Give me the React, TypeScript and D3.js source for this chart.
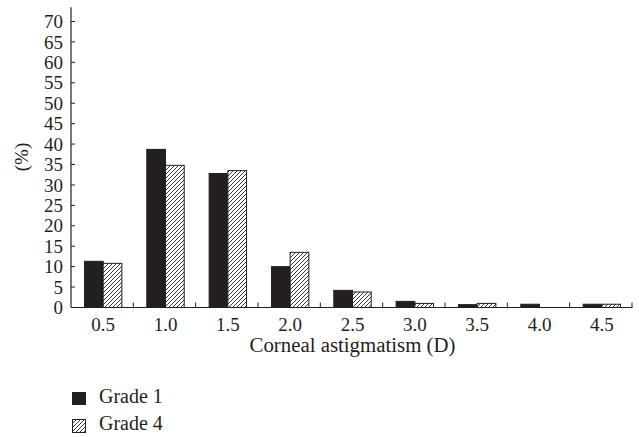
import React from "react";
import * as d3 from "d3";

const categories = ["0.5", "1.0", "1.5", "2.0", "2.5", "3.0", "3.5", "4.0", "4.5"];
const grade1 = [11.3, 38.7, 32.8, 10.0, 4.2, 1.5, 0.7, 0.8, 0.8];
const grade4 = [10.8, 34.8, 33.5, 13.5, 3.8, 1.0, 1.0, 0, 0.8];
const yTicks = [0, 5, 10, 15, 20, 25, 30, 35, 40, 45, 50, 55, 60, 65, 70];
const seriesNames = ["Grade 1", "Grade 4"];

const W = 639;
const H = 437;
const FONT = "'Liberation Serif', 'Times New Roman', serif";
const INK = "#231f20";

export default function App() {
  const x = d3.scaleBand<string>().domain(categories).range([71, 632]).padding(0);
  const y = d3.scaleLinear().domain([0, 70]).range([307.5, 21.5]);
  const bw = x.bandwidth() * 0.3;
  const boundaries = categories.map((_, i) => 71 + (i + 1) * x.step());

  return (
    <svg
      width={W}
      height={H}
      style={{ position: "absolute", left: 0, top: 0, background: "#fff" }}
      fontFamily={FONT}
    >
      <defs>
        <pattern id="hatch" patternUnits="userSpaceOnUse" width={4} height={4}>
          <rect width={4} height={4} fill="#fff" />
          <path d="M-1,1 l2,-2 M0,4 l4,-4 M3,5 l2,-2" stroke={INK} strokeWidth={0.9} />
        </pattern>
      </defs>

      {/* bars */}
      {categories.map((c, i) => {
        const cx = (x(c) as number) + x.bandwidth() / 2 + 1;
        const v1 = grade1[i];
        const v4 = grade4[i];
        return (
          <g key={c}>
            {v1 > 0 && (
              <rect
                x={cx - bw}
                y={y(v1)}
                width={bw}
                height={y(0) - y(v1)}
                fill={INK}
                stroke={INK}
                strokeWidth={1}
              />
            )}
            {v4 > 0 && (
              <rect
                x={cx}
                y={y(v4)}
                width={bw}
                height={y(0) - y(v4)}
                fill="url(#hatch)"
                stroke={INK}
                strokeWidth={1}
              />
            )}
          </g>
        );
      })}

      {/* y axis */}
      <line x1={71} x2={71} y1={y(73.5)} y2={y(0)} stroke={INK} strokeWidth={1.2} />
      {yTicks.map((t) => (
        <g key={t}>
          <line x1={71} x2={75} y1={y(t)} y2={y(t)} stroke={INK} strokeWidth={1} />
          <text
            x={63}
            y={y(t)}
            dy="0.35em"
            textAnchor="end"
            fontSize={19}
            fill={INK}
          >
            {t}
          </text>
        </g>
      ))}

      {/* x axis */}
      <line x1={71} x2={632.5} y1={y(0)} y2={y(0)} stroke={INK} strokeWidth={1.2} />
      {boundaries.map((b, i) => (
        <line key={i} x1={b} x2={b} y1={y(0)} y2={y(0) - 5} stroke={INK} strokeWidth={1} />
      ))}
      {categories.map((c) => (
        <text
          key={c}
          x={(x(c) as number) + x.bandwidth() / 2 + 1}
          y={331}
          textAnchor="middle"
          fontSize={19}
          fill={INK}
        >
          {c}
        </text>
      ))}

      {/* axis titles */}
      <text
        x={352.5}
        y={352}
        textAnchor="middle"
        fontSize={20}
        textLength={206}
        lengthAdjust="spacingAndGlyphs"
        fill={INK}
      >
        Corneal astigmatism (D)
      </text>
      <text
        transform={`translate(28, ${157}) rotate(-90)`}
        textAnchor="middle"
        fontSize={19}
        fill={INK}
      >
        (%)
      </text>

      {/* legend */}
      <rect x={72.5} y={392.5} width={13} height={12} fill={INK} stroke={INK} strokeWidth={1} />
      <text x={99} y={403} fontSize={20} fill={INK}>
        {seriesNames[0]}
      </text>
      <rect x={72.5} y={419.5} width={13} height={13} fill="url(#hatch)" stroke={INK} strokeWidth={1} />
      <text x={99} y={430} fontSize={20} fill={INK}>
        {seriesNames[1]}
      </text>
    </svg>
  );
}
